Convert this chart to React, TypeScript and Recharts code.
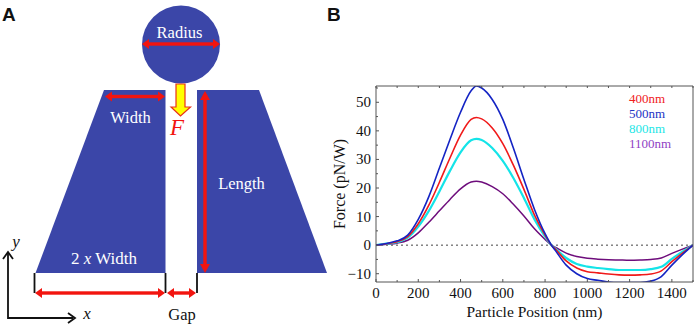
import { LineChart, Line, XAxis, YAxis, ReferenceLine, Legend } from "recharts";

const positions = [0, 50, 100, 150, 200, 250, 300, 350, 400, 450, 475, 500, 550, 600, 650, 700, 750, 800, 830, 850, 900, 950, 1000, 1050, 1100, 1150, 1200, 1250, 1300, 1350, 1400, 1450, 1500];
const force400 = [0, 0.5, 1.2, 3, 7.5, 14, 22, 30.5, 38.5, 44, 44.7, 44.2, 41, 35.5, 28, 19.5, 10.5, 3.5, 0, -1.5, -5.5, -8, -9.3, -9.7, -10.1, -10.4, -10.5, -10.4, -10.1, -9, -5.8, -2.8, 0];
const force500 = [0, 0.6, 1.5, 3.5, 9, 17, 27, 37, 46.5, 54, 55.7, 55, 51, 44, 34, 23, 12.5, 4, 0, -2, -7, -10, -11.7, -12.3, -12.9, -13.1, -13.1, -13.1, -12.6, -11, -7, -3.3, 0];
const force800 = [0, 0.5, 1, 2.6, 6.5, 12, 18.8, 26, 32.5, 36.7, 37.2, 36.8, 34, 29.5, 23.5, 16.5, 9, 3, 0, -1.3, -4.5, -6.6, -7.5, -8, -8.4, -8.7, -8.7, -8.7, -8.4, -7.6, -4.8, -2.3, 0];
const force1100 = [0, 0.3, 0.7, 1.7, 4.3, 8, 12, 16, 19.7, 22.1, 22.4, 22.1, 20.5, 18, 14.3, 10.2, 5.7, 2, 0, -0.8, -2.8, -4, -4.6, -4.9, -5.1, -5.2, -5.3, -5.2, -5, -4.5, -2.9, -1.4, 0];

const xTicks = [0, 100, 200, 300, 400, 500, 600, 700, 800, 900, 1000, 1100, 1200, 1300, 1400, 1500];
const xLabels = [0, 200, 400, 600, 800, 1000, 1200, 1400];
const yTicks = [-10, -5, 0, 5, 10, 15, 20, 25, 30, 35, 40, 45, 50, 55];
const yLabels = [-10, 0, 10, 20, 30, 40, 50];

const legendItems = [
  { name: "400nm", color: "#f0201c" },
  { name: "500nm", color: "#2233c4" },
  { name: "800nm", color: "#22e6e6" },
  { name: "1100nm", color: "#8f3fc4" },
];

const data = positions.map((x, i) => ({
  x,
  f400: force400[i],
  f500: force500[i],
  f800: force800[i],
  f1100: force1100[i],
}));

const SERIF = "'Liberation Serif', serif";
const BLUE = "#3b46a8";
const RED = "#f2140f";
const FRAME = "#555";

function BottomTick({ x, y, payload }: any) {
  const major = xLabels.includes(payload.value);
  return (
    <g>
      <line x1={x} x2={x} y1={y} y2={y - (major ? 3 : 2)} stroke={FRAME} />
      {major && (
        <text x={x} y={y + 16} textAnchor="middle" fontSize={15} fontFamily={SERIF} fill="#111">
          {payload.value}
        </text>
      )}
    </g>
  );
}

function TopTick({ x, y }: any) {
  return <line x1={x} x2={x} y1={y} y2={y + 2} stroke={FRAME} />;
}

function LeftTick({ x, y, payload }: any) {
  const major = yLabels.includes(payload.value);
  return (
    <g>
      <line x1={x} x2={x + (major ? 3 : 2)} y1={y} y2={y} stroke={FRAME} />
      {major && (
        <text x={x - 5} y={y + 5} textAnchor="end" fontSize={15} fontFamily={SERIF} fill="#111">
          {payload.value < 0 ? `\u2212${-payload.value}` : payload.value}
        </text>
      )}
    </g>
  );
}

function RightTick({ x, y }: any) {
  return <line x1={x} x2={x - 2} y1={y} y2={y} stroke={FRAME} />;
}

function LegendList() {
  return (
    <div style={{ fontFamily: SERIF, fontSize: 13, lineHeight: "15px" }}>
      {legendItems.map((it) => (
        <div key={it.name} style={{ color: it.color }}>
          {it.name}
        </div>
      ))}
    </div>
  );
}

function HArrow({ x1, x2, y }: { x1: number; x2: number; y: number }) {
  return (
    <g fill={RED}>
      <rect x={x1 + 5} y={y - 1.7} width={x2 - x1 - 10} height={3.4} />
      <polygon points={`${x1},${y} ${x1 + 7},${y - 5} ${x1 + 7},${y + 5}`} />
      <polygon points={`${x2},${y} ${x2 - 7},${y - 5} ${x2 - 7},${y + 5}`} />
    </g>
  );
}

function Diagram() {
  const label = { fontFamily: SERIF, textAnchor: "middle" as const };
  return (
    <svg width={340} height={328} style={{ position: "absolute", left: 0, top: 0 }}>
      <text x={2} y={21} fontFamily="'Liberation Sans', sans-serif" fontWeight="bold" fontSize={19} fill="#111">A</text>
      <text x={327} y={21} fontFamily="'Liberation Sans', sans-serif" fontWeight="bold" fontSize={19} fill="#111">B</text>

      <circle cx={181} cy={44.5} r={39} fill={BLUE} />
      <polygon points="104,90 165.5,90 165.5,273 35.5,273" fill={BLUE} />
      <polygon points="197,90 259,90 327,273 197,273" fill={BLUE} />

      <text x={179.5} y={38} fontSize={16.5} fill="#fff" {...label}>Radius</text>
      <text x={130.5} y={123} fontSize={16.5} fill="#fff" {...label}>Width</text>
      <text x={241.5} y={189} fontSize={16.5} fill="#fff" {...label}>Length</text>
      <text x={104} y={264} fontSize={17} fill="#fff" {...label}>
        2 <tspan fontStyle="italic">x</tspan> Width
      </text>

      <HArrow x1={142} x2={220} y={44} />
      <HArrow x1={105} x2={165} y={96.5} />
      <HArrow x1={35} x2={165} y={293} />
      <HArrow x1={167} x2={196} y={293} />
      <g fill={RED}>
        <rect x={203.3} y={95} width={3.4} height={174} />
        <polygon points="205,91 200,100 210,100" />
        <polygon points="205,273 200,264 210,264" />
      </g>

      <polygon
        points="176,84 185,84 185,107 190.5,107 180.5,116 171,107 176,107"
        fill="#ffff00"
        stroke="#e8301a"
        strokeWidth={1.2}
      />
      <text x={177} y={135} fontSize={23} fontStyle="italic" fill={RED} {...label}>F</text>

      <g stroke="#111" strokeWidth={1.8}>
        <line x1={34.5} x2={34.5} y1={273} y2={293} />
        <line x1={165.5} x2={165.5} y1={273} y2={293} />
        <line x1={197} x2={197} y1={273} y2={293} />
      </g>

      <g stroke="#111" strokeWidth={1.8} fill="none">
        <polyline points="8,253 8,318 73,318" />
        <polyline points="3,259 8,252 13,259" />
        <polyline points="68,313 75,318 68,323" />
      </g>
      <text x={16} y={247} fontSize={17} fontStyle="italic" fill="#111" {...label}>y</text>
      <text x={87} y={319} fontSize={17} fontStyle="italic" fill="#111" {...label}>x</text>
      <text x={182} y={320} fontSize={16.5} fill="#111" {...label}>Gap</text>
    </svg>
  );
}

export default function App() {
  return (
    <div style={{ position: "absolute", left: 0, top: 0, width: 699, height: 328, background: "#fff", overflow: "hidden" }}>
      <Diagram />
      <div style={{ position: "absolute", left: 0, top: 0 }}>
        <LineChart width={699} height={328} data={data} margin={{ top: 85, right: 5, bottom: 45, left: 336 }}>
          <XAxis
            dataKey="x"
            type="number"
            domain={[0, 1500]}
            ticks={xTicks}
            interval={0}
            height={1}
            tickSize={0}
            tickMargin={0}
            tick={BottomTick}
            tickLine={false}
            stroke={FRAME}
            allowDataOverflow
            label={{ value: "Particle Position (nm)", position: "bottom", offset: 23, fontSize: 15.5, fontFamily: SERIF, fill: "#111" }}
          />
          <XAxis
            xAxisId="top"
            orientation="top"
            dataKey="x"
            type="number"
            domain={[0, 1500]}
            ticks={xTicks}
            interval={0}
            height={1}
            tickSize={0}
            tickMargin={0}
            tick={TopTick}
            tickLine={false}
            stroke={FRAME}
          />
          <YAxis
            type="number"
            domain={[-12.9, 55.7]}
            ticks={yTicks}
            interval={0}
            width={40}
            tickSize={0}
            tickMargin={0}
            tick={LeftTick}
            tickLine={false}
            stroke={FRAME}
            allowDataOverflow
            label={{ value: "Force (pN/W)", angle: -90, position: "insideLeft", offset: 3, fontSize: 16, fontFamily: SERIF, fill: "#111", style: { textAnchor: "middle" } }}
          />
          <YAxis
            yAxisId="right"
            orientation="right"
            type="number"
            domain={[-12.9, 55.7]}
            ticks={yTicks}
            interval={0}
            width={1}
            tickSize={0}
            tickMargin={0}
            tick={RightTick}
            tickLine={false}
            stroke={FRAME}
          />
          <ReferenceLine y={0} stroke="#444" strokeDasharray="2 3" />
          <Legend
            content={LegendList}
            layout="vertical"
            align="center"
            verticalAlign="middle"
            wrapperStyle={{ left: 629, top: 91, width: 70, bottom: "auto", right: "auto" }}
          />
          <Line dataKey="f1100" type="monotone" stroke="#6e0d7c" strokeWidth={1.5} dot={false} isAnimationActive={false} />
          <Line dataKey="f800" type="monotone" stroke="#14e4e8" strokeWidth={2.2} dot={false} isAnimationActive={false} />
          <Line dataKey="f400" type="monotone" stroke="#f01a1a" strokeWidth={1.6} dot={false} isAnimationActive={false} />
          <Line dataKey="f500" type="monotone" stroke="#1424c4" strokeWidth={1.6} dot={false} isAnimationActive={false} />
        </LineChart>
      </div>
    </div>
  );
}
